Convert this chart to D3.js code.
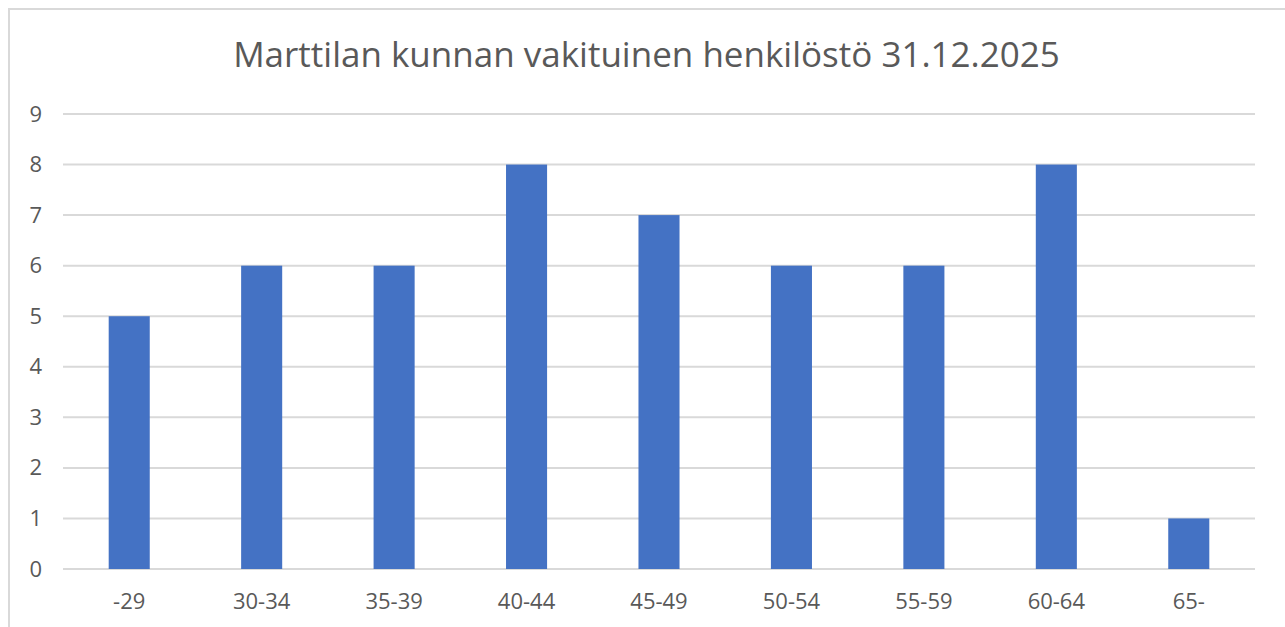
<!DOCTYPE html>
<html>
<head>
<meta charset="utf-8">
<script src="https://cdn.jsdelivr.net/npm/d3@7"></script>
<style>
  html, body { margin: 0; padding: 0; background: #fff; }
  svg { display: block; }
</style>
</head>
<body>
<svg id="chart" width="1285" height="627"></svg>
<script>
const TITLE = 'Marttilan kunnan vakituinen henkilöstö 31.12.2025';
const categories = ['-29', '30-34', '35-39', '40-44', '45-49', '50-54', '55-59', '60-64', '65-'];
const values = [5, 6, 6, 8, 7, 6, 6, 8, 1];
const yTicks = [0, 1, 2, 3, 4, 5, 6, 7, 8, 9];

const FONT = '"Open Sans", "Noto Sans", sans-serif';
const TEXT = '#595959';
const GRID = '#d9d9d9';

const svg = d3.select('#chart');

// outer chart border (only left and top fall inside the window)
svg.append('rect')
  .attr('x', 9).attr('y', 9)
  .attr('width', 1300).attr('height', 640)
  .attr('fill', '#fff')
  .attr('stroke', GRID)
  .attr('stroke-width', 2);

const plot = { left: 63, right: 1255, top: 114, bottom: 569 };

const x = d3.scaleBand()
  .domain(categories)
  .range([plot.left, plot.right])
  .paddingInner(0.69)
  .paddingOuter(0.345);

const y = d3.scaleLinear()
  .domain([0, 9])
  .range([plot.bottom, plot.top]);

// gridlines
svg.append('g')
  .selectAll('line').data(yTicks)
  .enter().append('line')
  .attr('x1', plot.left).attr('x2', plot.right)
  .attr('y1', d => y(d)).attr('y2', d => y(d))
  .attr('stroke', GRID)
  .attr('stroke-width', 2);

// bars
svg.append('g')
  .selectAll('rect').data(values)
  .enter().append('rect')
  .attr('x', (d, i) => x(categories[i]))
  .attr('width', x.bandwidth())
  .attr('y', d => y(d))
  .attr('height', d => y(0) - y(d))
  .attr('fill', '#4472c4');

// y axis labels
const yAxis = d3.axisLeft(y).tickValues(yTicks).tickSize(0).tickPadding(0);
svg.append('g')
  .attr('transform', 'translate(42,0)')
  .call(yAxis)
  .call(g => g.select('.domain').remove())
  .call(g => g.selectAll('text')
    .attr('fill', TEXT)
    .style('font-family', FONT)
    .style('font-size', '22px'));

// x axis labels
const xAxis = d3.axisBottom(x).tickSize(0).tickPadding(0);
svg.append('g')
  .attr('transform', 'translate(0,593)')
  .call(xAxis)
  .call(g => g.select('.domain').remove())
  .call(g => g.selectAll('text')
    .attr('fill', TEXT)
    .style('font-family', FONT)
    .style('font-size', '22px'));

// title
const title = svg.append('text')
  .attr('x', (233 + 1060) / 2)
  .attr('y', 67)
  .attr('text-anchor', 'middle')
  .attr('fill', TEXT)
  .style('font-family', FONT)
  .style('font-size', '30px')
  .text(TITLE);
const tw = title.node().getComputedTextLength();
title.style('font-size', (30 * 827 / tw).toFixed(2) + 'px');
</script>
</body>
</html>
